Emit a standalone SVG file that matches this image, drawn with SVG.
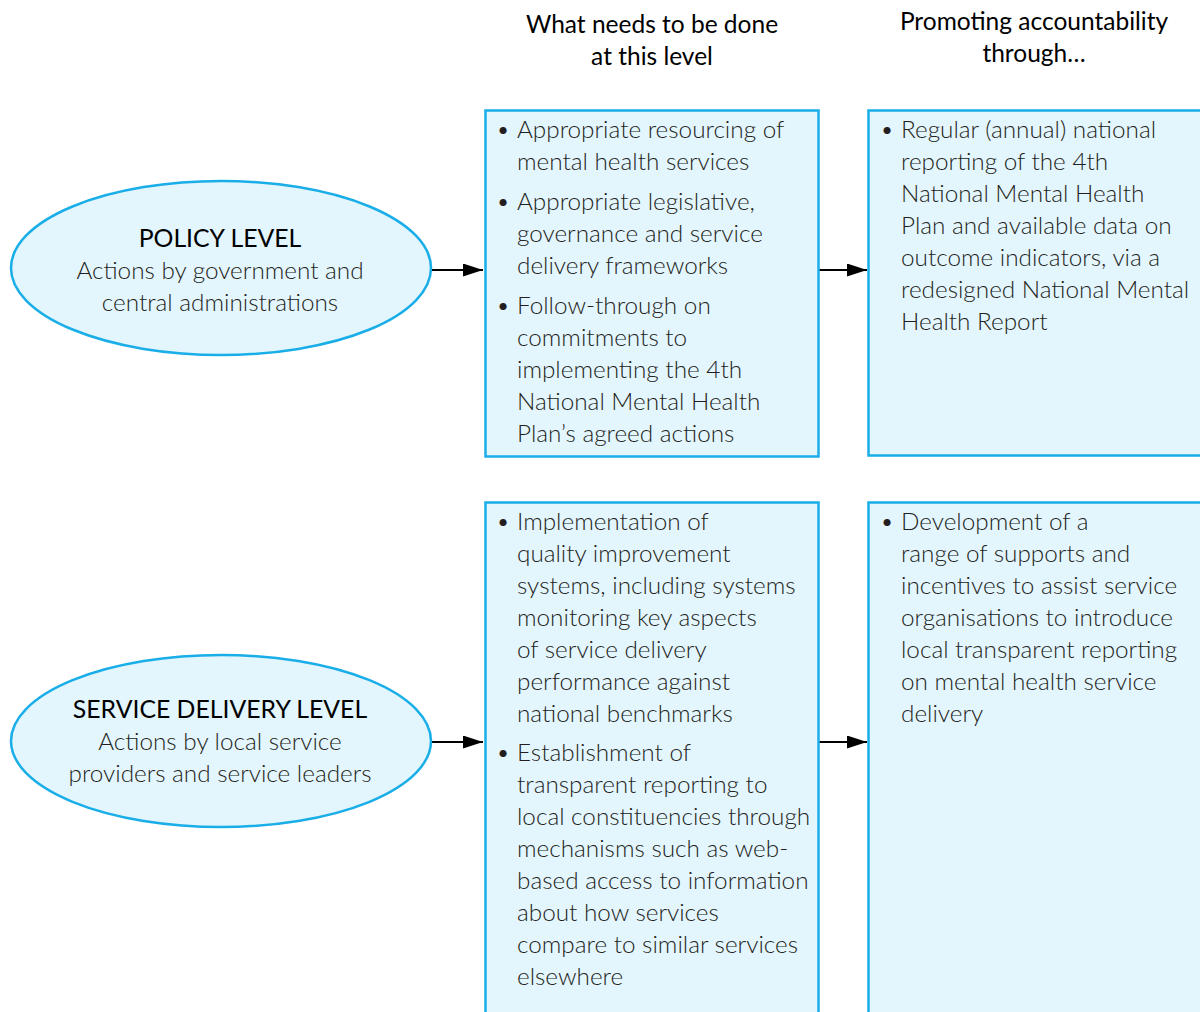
<svg xmlns="http://www.w3.org/2000/svg" width="1200" height="1012" viewBox="0 0 1200 1012">
<style>
.box{fill:#e3f5fd;stroke:#19aee8;stroke-width:2.5}
.t{font-family:Lato,"Liberation Sans",sans-serif;font-weight:300;font-size:24.3px;fill:#231f20}
.h{font-family:Lato,"Liberation Sans",sans-serif;font-weight:400;font-size:24.5px;fill:#000}
.ttl{font-family:Lato,"Liberation Sans",sans-serif;font-weight:400;font-size:24.8px;fill:#000}
.c{text-anchor:middle}
.conn{stroke:#000;stroke-width:2.2;fill:none;marker-end:url(#arr)}
</style>
<defs>
<marker id="arr" viewBox="0 0 10 10" refX="10" refY="5" markerWidth="20" markerHeight="13" markerUnits="userSpaceOnUse" orient="auto" preserveAspectRatio="none">
<path d="M0,0 L10,5 L0,10 z" fill="#000"/>
</marker>
</defs>
<rect width="1200" height="1012" fill="#fff"/>
<g id="headers">
<text class="h c" x="652" y="33">What needs to be done</text>
<text class="h c" x="652" y="65">at this level</text>
<text class="h c" x="1034" y="30">Promoting accountability</text>
<text class="h c" x="1034" y="62">through…</text>
</g>
<g id="connectors">
<line class="conn" x1="431" y1="270" x2="483" y2="270"/>
<line class="conn" x1="819" y1="270" x2="867" y2="270"/>
<line class="conn" x1="431" y1="742" x2="483" y2="742"/>
<line class="conn" x1="819" y1="742" x2="867" y2="742"/>
</g>
<g id="policy-level">
<ellipse class="box" cx="221" cy="268" rx="210" ry="87"/>
<text class="ttl c" x="220" y="247">POLICY LEVEL</text>
<text class="t c" x="220" y="279">Actions by government and</text>
<text class="t c" x="220" y="311">central administrations</text>
</g>
<g id="service-delivery-level">
<ellipse class="box" cx="221" cy="741" rx="210" ry="86"/>
<text class="ttl c" x="220" y="718">SERVICE DELIVERY LEVEL</text>
<text class="t c" x="220" y="750">Actions by local service</text>
<text class="t c" x="220" y="782">providers and service leaders</text>
</g>
<g id="policy-actions">
<rect class="box" x="485.5" y="110.5" width="333" height="346"/>
<text class="t" x="496" y="138">•</text>
<text class="t" x="517" y="138">Appropriate resourcing of</text>
<text class="t" x="517" y="170">mental health services</text>
<text class="t" x="496" y="210">•</text>
<text class="t" x="517" y="210">Appropriate legislative,</text>
<text class="t" x="517" y="242">governance and service</text>
<text class="t" x="517" y="274">delivery frameworks</text>
<text class="t" x="496" y="314">•</text>
<text class="t" x="517" y="314">Follow-through on</text>
<text class="t" x="517" y="346">commitments to</text>
<text class="t" x="517" y="378">implementing the 4th</text>
<text class="t" x="517" y="410">National Mental Health</text>
<text class="t" x="517" y="442">Plan’s agreed actions</text>
</g>
<g id="policy-accountability">
<rect class="box" x="868.5" y="110.5" width="340" height="345"/>
<text class="t" x="880" y="138">•</text>
<text class="t" x="901" y="138">Regular (annual) national</text>
<text class="t" x="901" y="170">reporting of the 4th</text>
<text class="t" x="901" y="202">National Mental Health</text>
<text class="t" x="901" y="234">Plan and available data on</text>
<text class="t" x="901" y="266">outcome indicators, via a</text>
<text class="t" x="901" y="298">redesigned National Mental</text>
<text class="t" x="901" y="330">Health Report</text>
</g>
<g id="service-actions">
<rect class="box" x="485.5" y="502.5" width="333" height="530"/>
<text class="t" x="496" y="530">•</text>
<text class="t" x="517" y="530">Implementation of</text>
<text class="t" x="517" y="562">quality improvement</text>
<text class="t" x="517" y="594">systems, including systems</text>
<text class="t" x="517" y="626">monitoring key aspects</text>
<text class="t" x="517" y="658">of service delivery</text>
<text class="t" x="517" y="690">performance against</text>
<text class="t" x="517" y="722">national benchmarks</text>
<text class="t" x="496" y="761">•</text>
<text class="t" x="517" y="761">Establishment of</text>
<text class="t" x="517" y="793">transparent reporting to</text>
<text class="t" x="517" y="825">local constituencies through</text>
<text class="t" x="517" y="857">mechanisms such as web-</text>
<text class="t" x="517" y="889">based access to information</text>
<text class="t" x="517" y="921">about how services</text>
<text class="t" x="517" y="953">compare to similar services</text>
<text class="t" x="517" y="985">elsewhere</text>
</g>
<g id="service-accountability">
<rect class="box" x="868.5" y="502.5" width="340" height="530"/>
<text class="t" x="880" y="530">•</text>
<text class="t" x="901" y="530">Development of a</text>
<text class="t" x="901" y="562">range of supports and</text>
<text class="t" x="901" y="594">incentives to assist service</text>
<text class="t" x="901" y="626">organisations to introduce</text>
<text class="t" x="901" y="658">local transparent reporting</text>
<text class="t" x="901" y="690">on mental health service</text>
<text class="t" x="901" y="722">delivery</text>
</g>
</svg>
